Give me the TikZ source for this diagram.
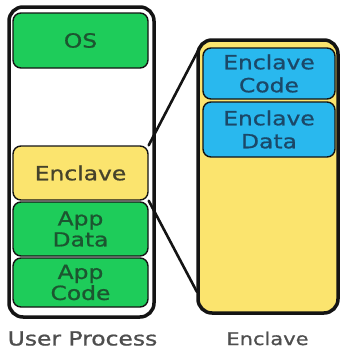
\documentclass[tikz,border=0pt]{standalone}
\usepackage{fontspec}
\newfontfamily\df[FakeStretch=1.2,FakeBold=0.9]{DejaVu Sans}
\definecolor{gbox}{HTML}{1ECC5A}
\definecolor{ybox}{HTML}{FBE46E}
\definecolor{bbox}{HTML}{29B8EE}
\definecolor{gtxt}{HTML}{1C5530}
\definecolor{ytxt}{HTML}{45422A}
\definecolor{btxt}{HTML}{1B4868}
\definecolor{ctxt}{HTML}{4E4E4E}
\definecolor{edge}{HTML}{141414}
\begin{document}
\begin{tikzpicture}[x=1pt,y=-1pt,
  outerbox/.style={draw=edge,line width=3.5pt,rounded corners=14pt,inner sep=0pt},
  partbox/.style={draw=edge,line width=1.4pt,rounded corners=8pt,inner sep=0pt,align=center,
    font=\df\fontsize{19.5}{21}\selectfont},
  widebox/.style={minimum width=135pt},
  captext/.style={text=ctxt,font=\df\fontsize{17.5}{20}\selectfont,inner sep=0pt},
  linkline/.style={draw=edge,line width=2.6pt,line cap=round}]
\useasboundingbox (0,0) rectangle (342,349);
% outer containers
\node[outerbox,fill=white,minimum width=145pt,minimum height=310pt] (user) at (81.5,162) {};
\node[outerbox,fill=ybox,minimum width=140pt,minimum height=273pt] (big) at (268,176.5) {};
% user process parts
\node[partbox,widebox,fill=gbox,text=gtxt,minimum height=55pt] (os) at (80.5,40.5) {OS};
\node[partbox,widebox,fill=ybox,text=ytxt,minimum height=54pt] (encl) at (80.5,173) {Enclave};
\node[partbox,widebox,fill=gbox,text=gtxt,minimum height=54pt] (adata) at (80.5,229) {App\\Data};
\node[partbox,widebox,fill=gbox,text=gtxt,minimum height=49pt] (acode) at (80.5,282.5) {App\\Code};
% enclave parts
\node[partbox,minimum width=132pt,fill=bbox,text=btxt,minimum height=51pt,
  font=\df\fontsize{19.5}{23}\selectfont] (ecode) at (269,73.5) {Enclave\\Code};
\node[partbox,minimum width=132pt,fill=bbox,text=btxt,minimum height=55pt,
  font=\df\fontsize{19.5}{23}\selectfont] (edata) at (269,129.5) {Enclave\\Data};
% connectors
\coordinate (ta) at (200,47);
\coordinate (tb) at (197,292);
\draw[linkline] (encl.north east) -- (ta);
\draw[linkline] (encl.south east) -- (tb);
% captions
\node[captext,font=\df\fontsize{19.5}{20}\selectfont] (lu) at (82.5,338.5) {User Process};
\node[captext] (le) at (267.5,338.5) {Enclave};
\end{tikzpicture}
\end{document}
